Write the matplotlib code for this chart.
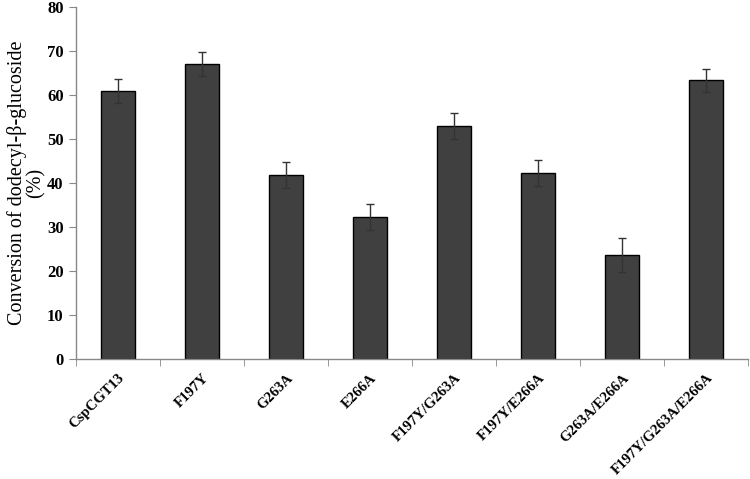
import matplotlib
matplotlib.use("Agg")
import matplotlib.pyplot as plt
import numpy as np

categories = ["CspCGT13", "F197Y", "G263A", "E266A", "F197Y/G263A",
              "F197Y/E266A", "G263A/E266A", "F197Y/G263A/E266A"]
values = [60.9, 67.0, 41.8, 32.3, 53.0, 42.3, 23.7, 63.3]
errors = [2.7, 2.7, 3.0, 3.0, 3.0, 3.0, 3.9, 2.6]
yticks = [0, 10, 20, 30, 40, 50, 60, 70, 80]

fig = plt.figure(figsize=(7.5, 4.79), dpi=100)
ax = fig.add_axes([76/750, 1-359/479, 672/750, 352/479])

x = np.arange(len(categories))
ax.bar(x, values, width=0.4, color="#404040", edgecolor="black", linewidth=1.0, zorder=2)
ax.errorbar(x, values, yerr=errors, fmt="none", ecolor="#333333", elinewidth=1.0,
            capsize=3, capthick=1.0, zorder=3)

ax.set_xlim(-0.5, len(categories) - 0.5)
ax.set_ylim(0, 80)
ax.set_yticks(yticks)
ax.set_yticklabels([str(t) for t in yticks], fontfamily="Liberation Serif",
                   fontweight="bold", fontsize=12)
ax.set_xticks(x)
ax.set_xticklabels(categories, rotation=45, ha="right", rotation_mode="anchor",
                   fontfamily="Liberation Serif", fontweight="bold", fontsize=10.6)
ax.tick_params(axis="x", length=0, pad=9)
ax.set_xticks(np.arange(len(categories) + 1) - 0.5, minor=True)
ax.tick_params(axis="x", which="minor", length=5, color="#888888", direction="out")
ax.tick_params(axis="y", length=5, color="#888888", direction="out", pad=4)

for s in ["top", "right"]:
    ax.spines[s].set_visible(False)
for s in ["left", "bottom"]:
    ax.spines[s].set_color("#888888")
    ax.spines[s].set_linewidth(1.0)

ax.set_ylabel("Conversion of dodecyl-β-glucoside\n(%)", fontfamily="Liberation Serif",
              fontsize=14.5, linespacing=1.0)
ax.yaxis.set_label_coords(-0.045, 0.5)

fig.savefig("out.png", dpi=100, facecolor="white")
